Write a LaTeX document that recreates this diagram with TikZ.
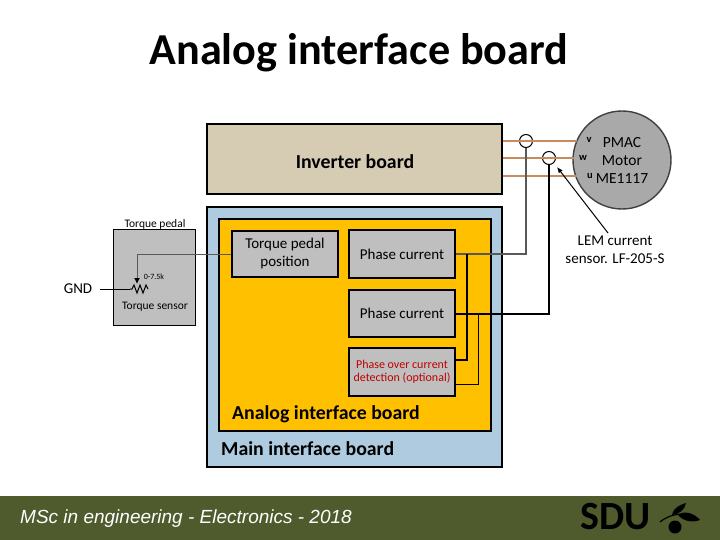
\documentclass[tikz,border=0pt]{standalone}
\usepackage{fontspec}
\setmainfont{Carlito}
\newfontfamily\footfont{Liberation Sans}
\usetikzlibrary{arrows.meta}
\definecolor{invfill}{HTML}{D6CCB4}
\definecolor{mainfill}{HTML}{AECBDF}
\definecolor{analogfill}{HTML}{FFC000}
\definecolor{boxfill}{HTML}{BFBFBF}
\definecolor{motorfill}{HTML}{A9A9A9}
\definecolor{phasecol}{HTML}{C98A5E}
\definecolor{footfill}{HTML}{4F5B2D}
\definecolor{redtext}{HTML}{C00000}
\definecolor{wiregray}{HTML}{595959}
\begin{document}
\begin{tikzpicture}[x=1pt,y=-1pt,
    board/.style={rectangle,draw,line width=2.5pt,inner sep=0pt},
    sub node/.style={board,fill=boxfill,minimum width=106pt,font=\fontsize{15}{18}\selectfont,align=center},
    board label/.style={inner sep=0pt,font=\bfseries\fontsize{19.8}{24}\selectfont},
    label node/.style={inner sep=0pt,align=center,font=\fontsize{15}{18}\selectfont},
    pin label/.style={inner sep=0pt,font=\bfseries\fontsize{10.5}{12}\selectfont},
    sensor node/.style={circle,draw,line width=1pt,minimum size=13pt,inner sep=0pt},
    phase wire/.style={phasecol,line width=1.1pt},
    thin wire/.style={line width=1pt},
    thick wire/.style={line width=2pt}]
    \useasboundingbox (0,0) rectangle (720,540);
    \node[font=\bfseries\fontsize{44.2}{50}\selectfont] at (359,53) (title) {Analog interface board};

    % boards
    \node[board,fill=invfill,minimum width=295pt,minimum height=70pt] at (354.5,159) (inverter) {};
    \node[board label] at (355,162) (invlabel) {Inverter board};
    \node[board,fill=mainfill,minimum width=295pt,minimum height=260pt] at (354.5,337) (mainboard) {};
    \node[board,fill=analogfill,minimum width=272pt,minimum height=212pt] at (355,325) (analog) {};
    \node[board label,anchor=west] at (232,414) (analoglabel) {Analog interface board};
    \node[board label,anchor=west] at (221,449) (mainlabel) {Main interface board};

    % blocks inside
    \node[sub node,minimum height=46pt] at (285,254) (pedalpos) {Torque pedal\\position};
    \node[sub node,minimum height=48pt] at (402,254) (phasea) {Phase current};
    \node[sub node,minimum height=47pt] at (402,313.5) (phaseb) {Phase current};
    \node[sub node,minimum height=48pt,text=redtext,font=\fontsize{12}{13}\selectfont] at (402,372) (overcurrent) {Phase over current\\detection (optional)};

    % pedal
    \node[rectangle,draw,line width=1pt,fill=boxfill,minimum width=82pt,minimum height=95pt] at (154,277.5) (pedal) {};
    \node[inner sep=0pt,font=\fontsize{11.5}{13}\selectfont] at (155,224) (pedallabel) {Torque pedal};
    \node[inner sep=0pt,font=\fontsize{11.5}{13}\selectfont] at (155,307) (sensorlabel) {Torque sensor};
    \node[inner sep=0pt,font=\fontsize{8}{9}\selectfont] at (154,277) (potlabel) {0-7.5k};
    \node[inner sep=0pt,font=\fontsize{15}{18}\selectfont] at (78,289) (gnd) {GND};
    \coordinate (potl) at (130,289);
    \coordinate (wiper) at (137,284);
    \draw[line width=1pt] (potl) -- ++(2,0) -- ++(2,-4) -- ++(3,8) -- ++(3,-8) -- ++(3,8) -- ++(3,-8) -- ++(2,4);
    \draw[thin wire] (gnd.east) ++(8,0) -- (potl);
    \draw[wiregray,thin wire,-{Latex[black,length=6pt,width=6pt]}] (pedalpos.west) -| (wiper);

    % motor
    \node[circle,draw=black!75,line width=1.4pt,fill=motorfill,minimum size=98pt,inner sep=0pt] at (622,160) (motor) {};
    \node[label node,font=\fontsize{15.5}{18}\selectfont] at (622,160.5) (motorlabel) {PMAC\\Motor\\ME1117};
    \node[pin label] at (589,140) (vlabel) {v};
    \node[pin label] at (583,158) (wlabel) {w};
    \node[pin label] at (590,176) (ulabel) {u};
    \coordinate (vin) at (577,141);
    \coordinate (win) at (574,158);
    \coordinate (uin) at (577,176);

    % sensors
    \node[sensor node] at (526,141) (sensa) {};
    \node[sensor node] at (549,158) (sensb) {};
    \draw[phase wire] (inverter.east |- vin) -- (vin);
    \draw[phase wire] (inverter.east |- win) -- (win);
    \draw[phase wire] (inverter.east |- uin) -- (uin);
    \node[label node] at (615,250) (lem) {LEM current\\sensor. LF-205-S};
    \coordinate (lemtail) at (608,233);
    \coordinate (lemtip) at (557,167);
    \draw[-{Latex[length=6pt,width=5pt]},thin wire] (lemtail) -- (lemtip);

    % wires
    \draw[wiregray,line width=1.2pt] (phasea.east) -| (sensa.south);
    \draw[thick wire] (phaseb.east) -| (sensb.south);
    \coordinate (tapa) at (467,254);
    \coordinate (tapb) at (478,313.5);
    \coordinate (odta) at (455,360);
    \coordinate (odtb) at (455,384);
    \draw[thick wire] (tapa) |- (odta);
    \draw[thin wire] (tapb) |- (odtb);

    % footer
    \node[rectangle,fill=footfill,minimum width=720pt,minimum height=44pt,inner sep=0pt] at (360,518) (footer) {};
    \node[anchor=west,inner sep=0pt,text=white,font=\footfont\itshape\fontsize{19}{22}\selectfont] at (20,519) (course) {MSc in engineering - Electronics - 2018};
    \node[anchor=west,inner sep=0pt,text=black,font=\bfseries\fontsize{40}{44}\selectfont] at (580,516.5) (sdu) {SDU};
    \node[circle,fill=black,minimum size=13pt,inner sep=0pt] at (675,527) (apple) {};
    \fill (672,515) .. controls (674,507) and (680,505) .. (686,503) .. controls (685,510) and (679,514) .. (672,515);
    \fill (678,515) .. controls (684,510) and (694,513) .. (700,520) .. controls (692,523) and (683,521) .. (678,515);
    \draw[line width=1.2pt] (660,522) .. controls (666,517) and (672,515) .. (680,514);
\end{tikzpicture}
\end{document}
